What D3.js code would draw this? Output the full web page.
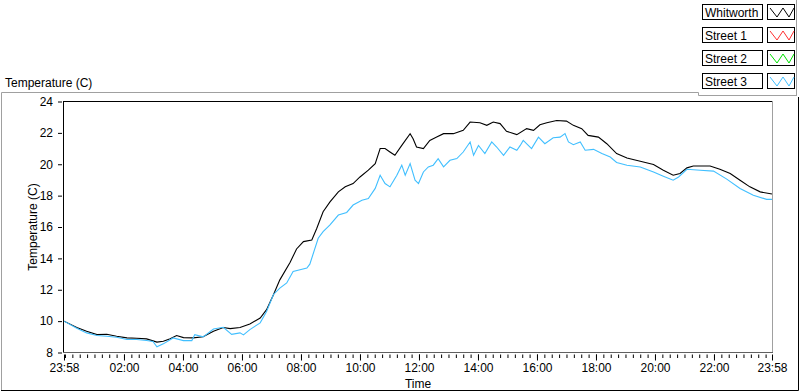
<!DOCTYPE html>
<html>
<head>
<meta charset="utf-8">
<script src="https://cdn.jsdelivr.net/npm/d3@7"></script>
<style>
  body { margin: 0; background: #fff; }
  svg text { font-family: "Liberation Sans", Arial, sans-serif; font-size: 12px; fill: #000; }
</style>
</head>
<body>
<div id="chart"></div>
<script>
// series names shown in the legend
const seriesNames = ["Whitworth", "Street 1", "Street 2", "Street 3"];

// minutes after 23:58 and temperature (C)
const whitworthMin = [0, 26, 46, 67, 87, 107, 128, 148, 168, 189, 202, 216, 229, 243, 263, 283, 304, 324, 338, 358, 378, 399, 412, 426, 439, 460, 473, 487, 504, 514, 527, 541, 558, 572, 588, 602, 619, 633, 643, 653, 663, 673, 687, 704, 710, 717, 731, 744, 758, 772, 792, 812, 826, 846, 860, 873, 887, 900, 921, 941, 955, 968, 982, 1002, 1022, 1036, 1053, 1066, 1087, 1104, 1124, 1145, 1172, 1199, 1219, 1239, 1253, 1267, 1280, 1314, 1334, 1355, 1375, 1395, 1416, 1440];
const whitworthVal = [10.0, 9.6, 9.35, 9.14, 9.16, 9.04, 8.93, 8.91, 8.87, 8.66, 8.72, 8.87, 9.08, 8.95, 8.93, 9.0, 9.35, 9.59, 9.52, 9.59, 9.82, 10.2, 10.73, 11.68, 12.63, 13.75, 14.6, 15.07, 15.17, 15.9, 16.97, 17.6, 18.24, 18.56, 18.77, 19.19, 19.62, 20.04, 21.0, 21.0, 20.78, 20.57, 21.2, 21.95, 21.63, 21.1, 21.0, 21.52, 21.73, 21.95, 21.95, 22.16, 22.69, 22.65, 22.48, 22.69, 22.59, 22.1, 21.89, 22.27, 22.16, 22.52, 22.65, 22.79, 22.75, 22.48, 22.27, 21.84, 21.73, 21.31, 20.68, 20.4, 20.19, 19.98, 19.62, 19.3, 19.41, 19.77, 19.89, 19.89, 19.68, 19.41, 18.98, 18.56, 18.24, 18.1];

const street3Min = [0, 26, 46, 67, 87, 107, 128, 148, 168, 181, 189, 202, 222, 243, 260, 266, 283, 304, 324, 341, 358, 365, 378, 399, 412, 426, 439, 453, 466, 480, 494, 500, 517, 527, 541, 558, 575, 588, 606, 619, 633, 643, 653, 663, 677, 687, 694, 704, 714, 721, 731, 741, 751, 761, 772, 785, 799, 812, 826, 833, 843, 856, 870, 880, 894, 907, 921, 928, 934, 951, 965, 978, 995, 1009, 1019, 1026, 1036, 1050, 1060, 1077, 1094, 1111, 1124, 1145, 1172, 1199, 1219, 1239, 1250, 1267, 1294, 1321, 1348, 1375, 1402, 1429, 1440];
const street3Val = [10.0, 9.54, 9.25, 9.08, 9.04, 8.97, 8.83, 8.83, 8.76, 8.7, 8.36, 8.55, 8.93, 8.76, 8.76, 9.14, 9.0, 9.5, 9.61, 9.16, 9.25, 9.12, 9.46, 9.89, 10.62, 11.7, 12.1, 12.43, 13.16, 13.27, 13.38, 13.63, 15.28, 15.7, 16.13, 16.76, 16.93, 17.4, 17.71, 17.82, 18.46, 19.3, 18.77, 18.56, 19.3, 19.94, 19.3, 20.04, 18.98, 18.77, 19.51, 19.83, 19.94, 20.36, 19.83, 20.25, 20.36, 20.78, 21.42, 20.57, 21.2, 20.68, 21.42, 21.1, 20.57, 21.1, 20.89, 21.2, 21.52, 21.0, 21.73, 21.31, 21.69, 21.73, 21.95, 21.42, 21.25, 21.42, 20.89, 20.95, 20.68, 20.46, 20.11, 19.94, 19.83, 19.51, 19.24, 18.98, 19.19, 19.68, 19.62, 19.56, 19.05, 18.46, 18.03, 17.76, 17.76];

// axis ticks
const yTicks = [8, 10, 12, 14, 16, 18, 20, 22, 24];
const xTickHours = [2, 4, 6, 8, 10, 12, 14, 16, 18, 20, 22];

const width = 800, height = 392;
const plot = { left: 64, right: 772, top: 101.5, bottom: 352.5 };
const colors = { "Whitworth": "#000000", "Street 1": "#ff3030", "Street 2": "#00e000", "Street 3": "#40bfff" };
const grey = "#a0a0a0";

const start = new Date(2000, 0, 1, 23, 58);
const end = new Date(2000, 0, 2, 23, 58);
const toDate = m => new Date(start.getTime() + m * 60000);

var svg = d3.select("#chart").append("svg")
  .attr("width", width)
  .attr("height", height);

var x = d3.scaleTime().domain([start, end]).range([plot.left, plot.right]);
var y = d3.scaleLinear().domain([8, 24]).range([plot.bottom, plot.top]);

// outer panel frame
svg.append("path")
  .attr("d", "M1.5,390 L1.5,92.5 L698.5,92.5 L698.5,95.5 L797,95.5")
  .attr("fill", "none").attr("stroke", grey);
svg.append("path")
  .attr("d", "M1,390.5 L798.5,390.5 L798.5,97")
  .attr("fill", "none").attr("stroke", "#000");
// legend frame on the right
svg.append("line")
  .attr("x1", 796.5).attr("x2", 796.5).attr("y1", 0).attr("y2", 95.5)
  .attr("stroke", grey);

// chart title
svg.append("text")
  .attr("x", 5).attr("y", 87)
  .text("Temperature (C)");

// plot frame
svg.append("line")
  .attr("x1", plot.left).attr("x2", plot.right).attr("y1", 101.5).attr("y2", 101.5)
  .attr("stroke", "#000");
svg.append("line")
  .attr("x1", 63.5).attr("x2", 63.5).attr("y1", 101).attr("y2", 353)
  .attr("stroke", "#000");
svg.append("line")
  .attr("x1", 772.5).attr("x2", 772.5).attr("y1", 101).attr("y2", 353)
  .attr("stroke", grey);
svg.append("line")
  .attr("x1", 63).attr("x2", 773).attr("y1", 352.5).attr("y2", 352.5)
  .attr("stroke", "#606060");

// y axis
var yAxis = svg.append("g")
  .attr("transform", "translate(62,0)")
  .call(d3.axisLeft(y).tickValues(yTicks).tickSize(4).tickPadding(5));
yAxis.select(".domain").remove();
yAxis.selectAll("line").attr("stroke", "#000");
yAxis.selectAll("text").style("font-family", null).style("font-size", null).attr("fill", "#000");
yAxis.attr("font-family", null).attr("font-size", null);

// x axis: minor ticks every 15 min, major every 2 h plus the ends
var minorTicks = d3.timeMinute.every(15).range(start, end);
svg.append("g")
  .attr("transform", "translate(0,354.5)")
  .call(d3.axisBottom(x).tickValues(minorTicks).tickSize(3.5).tickFormat(""))
  .call(g => g.select(".domain").remove())
  .selectAll("line").attr("stroke", "#000");

var majorTicks = [start].concat(xTickHours.map(h => new Date(2000, 0, 2, h, 0)), [end]);
var xAxis = svg.append("g")
  .attr("transform", "translate(0,354.5)")
  .call(d3.axisBottom(x).tickValues(majorTicks).tickSize(6).tickPadding(3)
    .tickFormat(d3.timeFormat("%H:%M")));
xAxis.select(".domain").remove();
xAxis.attr("font-family", null).attr("font-size", null);
xAxis.selectAll("line").attr("stroke", "#000");
xAxis.selectAll("text").attr("fill", "#000");

// axis titles
svg.append("text")
  .attr("x", (plot.left + plot.right) / 2).attr("y", 388)
  .attr("text-anchor", "middle")
  .text("Time");
svg.append("text")
  .attr("transform", "translate(37,227) rotate(-90)")
  .attr("text-anchor", "middle")
  .attr("fill", "#200000")
  .text("Temperature (C)");

// data lines
var line = d3.line()
  .x(d => x(toDate(d[0])))
  .y(d => y(d[1]));

var whitworthData = whitworthMin.map((m, i) => [m, whitworthVal[i]]);
var street3Data = street3Min.map((m, i) => [m, street3Val[i]]);

svg.append("path")
  .datum(whitworthData)
  .attr("fill", "none")
  .attr("stroke", colors["Whitworth"])
  .attr("stroke-width", 1.1)
  .attr("d", line);

svg.append("path")
  .datum(street3Data)
  .attr("fill", "none")
  .attr("stroke", colors["Street 3"])
  .attr("stroke-width", 1.1)
  .attr("d", line);

// legend
var legend = svg.append("g").attr("class", "legend");
seriesNames.forEach(function (name, i) {
  var top = 4 + i * 23;
  legend.append("rect")
    .attr("x", 702.5).attr("y", top + 0.5)
    .attr("width", 60).attr("height", 15)
    .attr("fill", "#fff").attr("stroke", "#000");
  legend.append("text")
    .attr("x", 705).attr("y", top + 12.5)
    .text(name);
  legend.append("rect")
    .attr("x", 767.5).attr("y", top + 0.5)
    .attr("width", 27).attr("height", 15)
    .attr("fill", "#fff").attr("stroke", "#000");
  legend.append("polyline")
    .attr("points", [[770, top + 4], [777, top + 13], [783, top + 4], [789, top + 13], [794, top + 4]].map(p => p.join(",")).join(" "))
    .attr("fill", "none")
    .attr("stroke", colors[name]);
});
</script>
</body>
</html>
